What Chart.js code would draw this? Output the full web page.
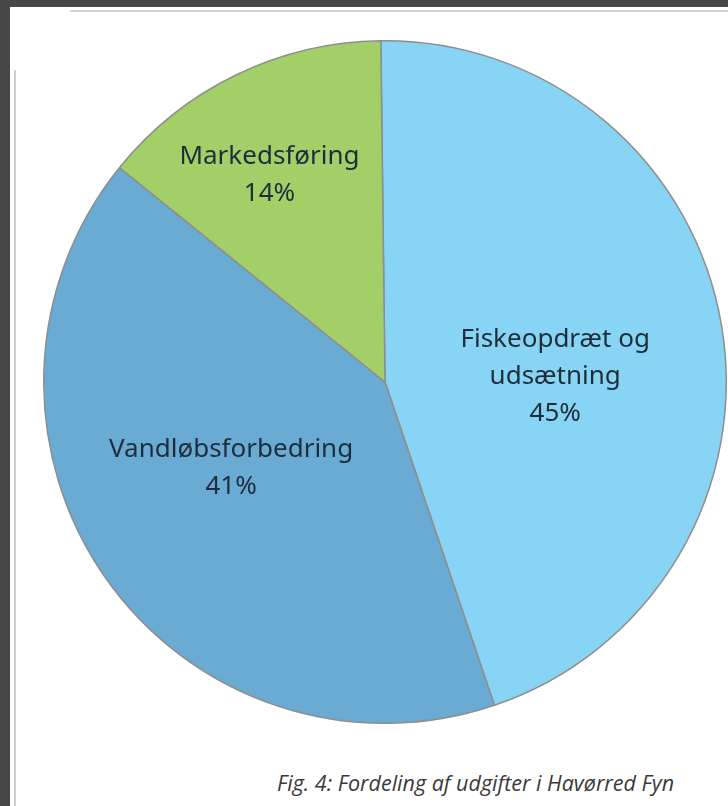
<!DOCTYPE html>
<html>
<head>
<meta charset="utf-8">
<script src="https://cdn.jsdelivr.net/npm/chart.js@4"></script>
<style>
  html, body { margin: 0; padding: 0; }
  body { width: 728px; height: 806px; background: #474747; position: relative; overflow: hidden; }
  #page { position: absolute; left: 10px; top: 7px; right: 0; bottom: 0; background: #ffffff; }
  #topline { position: absolute; left: 70px; right: 0; top: 10px; height: 2px; background: #d4d4d4; }
  #leftline { position: absolute; left: 14px; top: 70px; bottom: 0; width: 2px; background: #cfcfcf; }
  #wrap { position: absolute; left: 43px; top: 40px; width: 684px; height: 684px; }
  #caption { position: absolute; left: 277px; top: 768px; font-family: "Open Sans", sans-serif; font-style: italic;
             font-size: 21.5px; color: #3a3a3a; white-space: nowrap; }
</style>
</head>
<body>
<div id="page"></div>
<div id="topline"></div>
<div id="leftline"></div>
<div id="wrap"><canvas id="pie" width="684" height="684"></canvas></div>
<div id="caption">Fig. 4: Fordeling af udgifter i Havørred Fyn</div>
<script>
const categories = ["Fiskeopdræt og udsætning", "Vandløbsforbedring", "Markedsføring"];
const shares = [45, 41, 14];
const labelLines = [["Fiskeopdræt og", "udsætning"], ["Vandløbsforbedring"], ["Markedsføring"]];
const colors = ["#88d4f5", "#6aabd4", "#a2cf68"];

// nudges for label blocks, relative to the slice's tooltip position
const nudges = [[2, 23], [-14, -12], [-41, -53]];

const sliceLabels = {
  id: "sliceLabels",
  afterDatasetsDraw(chart) {
    const ctx = chart.ctx;
    const meta = chart.getDatasetMeta(0);
    ctx.save();
    ctx.font = '26px "Noto Sans", sans-serif';
    ctx.fillStyle = "#1f2d3b";
    ctx.textAlign = "center";
    ctx.textBaseline = "middle";
    const lh = 37;
    meta.data.forEach(function(arc, i) {
      const p = arc.tooltipPosition();
      const lines = labelLines[i].concat([shares[i] + "%"]);
      const x = p.x + nudges[i][0];
      const y0 = p.y + nudges[i][1] - (lines.length - 1) * lh / 2;
      lines.forEach(function(t, k) { ctx.fillText(t, x, y0 + k * lh); });
    });
    ctx.restore();
  }
};

new Chart(document.getElementById("pie"), {
  type: "pie",
  data: {
    labels: categories,
    datasets: [{
      data: shares,
      backgroundColor: colors,
      borderColor: "#8e8e8e",
      borderWidth: 1.5
    }]
  },
  options: {
    responsive: false,
    animation: false,
    rotation: -0.7,
    layout: { padding: 0 },
    plugins: { legend: { display: false }, tooltip: { enabled: false } }
  },
  plugins: [sliceLabels]
});
</script>
</body>
</html>
